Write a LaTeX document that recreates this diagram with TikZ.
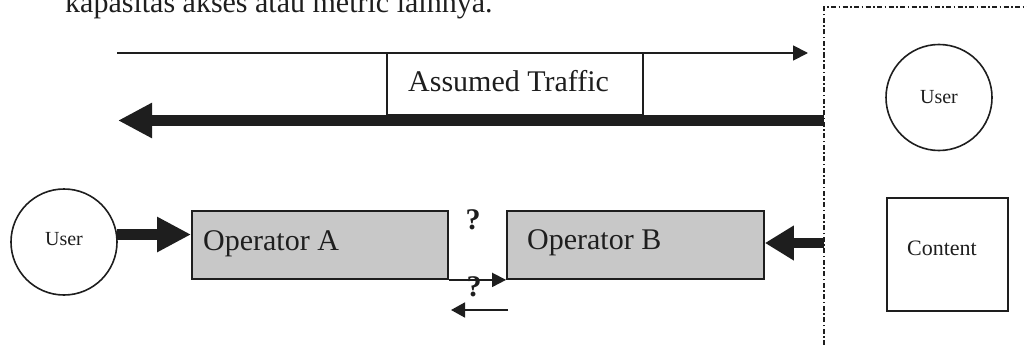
\documentclass[tikz,border=0pt]{standalone}
\usepackage{fontspec}
\setmainfont{Liberation Serif}
\usetikzlibrary{arrows.meta}
\definecolor{ink}{HTML}{1E1E1E}
\definecolor{boxgray}{HTML}{C8C8C8}
\begin{document}
\begin{tikzpicture}[x=1pt,y=-1pt,
  bigtext/.style={font=\fontsize{30}{36}\selectfont, text=ink, inner sep=0pt},
  opbox/.style={draw=ink, line width=1.8pt, fill=boxgray, rectangle,
    minimum width=256pt, minimum height=68pt, inner sep=0pt},
  usercircle/.style={draw=ink, line width=1.6pt, circle, minimum size=106pt,
    inner sep=0pt, font=\fontsize{20}{24}\selectfont, text=ink},
  thinarrow/.style={draw=ink, line width=1.8pt, -{Triangle[length=15pt,width=15pt]}},
  thickarrow/.style={draw=ink, line width=11pt, -{Triangle[length=34pt,width=33pt]}},
  query/.style={font=\fontsize{30}{36}\bfseries\selectfont, text=ink, inner sep=0pt},
  boundary/.style={draw=ink, line width=1.3pt, dash pattern=on 5pt off 2.5pt on 1.5pt off 2.5pt}
]
\useasboundingbox (0,0) rectangle (1027,345);
\clip (0,0) rectangle (1027,345);

% running text above the figure
\node[bigtext, anchor=base west] (caption) at (65,13) {kapasitas akses atau metric lainnya.};

% boundary of the remote network
\coordinate (bndbottom) at (824,345);
\coordinate (bndcorner) at (824,7);
\coordinate (bndright) at (1027,7);
\draw[boundary] (bndbottom) -- (bndcorner) -- (bndright);

% assumed traffic band
\coordinate (fwdstart) at (117,53);
\coordinate (fwdend) at (808,53);
\coordinate (backstart) at (824,120.5);
\coordinate (backend) at (118,120.5);
\node[draw=ink, line width=1.5pt, rectangle, minimum width=256pt, minimum height=62pt,
  inner sep=0pt] (traffic) at (515,84) {};
\node[bigtext, anchor=base west] (trafficlabel) at (408,92) {Assumed Traffic};
\draw[thinarrow] (fwdstart) -- (fwdend);
\draw[thickarrow] (backstart) -- (backend);

% remote user and content
\node[usercircle] (userR) at (939,97.5) {User};
\node[draw=ink, line width=1.6pt, rectangle, minimum width=121pt, minimum height=113pt,
  inner sep=0pt, font=\fontsize{22}{26}\selectfont, text=ink] (content) at (947.5,254.5) {};
\node[font=\fontsize{22}{26}\selectfont, text=ink, inner sep=0pt] (contentlabel) at (942,248) {Content};

% local user and operators
\node[usercircle] (userL) at (64,242) {};
\node[font=\fontsize{20}{24}\selectfont, text=ink, inner sep=0pt] (userLlabel) at (64,239) {User};
\node[opbox] (opA) at (320,245) {};
\node[bigtext, anchor=base west] (opAlabel) at (203,250) {Operator A};
\node[opbox, minimum width=257pt] (opB) at (635.5,245) {};
\node[bigtext, anchor=base west] (opBlabel) at (527,249) {Operator B};

% access traffic into the operators
\draw[thickarrow] (userL.8) -- (opA.west |- userL.8);
\coordinate (contentfeed) at (824,243);
\draw[line width=10pt, draw=ink, -{Triangle[length=29pt,width=33pt]}] (contentfeed) -- (opB.east |- contentfeed);

% interconnection between the operators
\node[query] (q1) at (473,220) {?};
\draw[thinarrow, -{Triangle[length=14pt,width=14pt]}] (opA.south east) -- (opB.south west);
\node[query] (q2) at (474,287) {?};
\coordinate (retstart) at (508,310);
\coordinate (retend) at (451,310);
\draw[thinarrow, -{Triangle[length=14pt,width=15pt]}] (retstart) -- (retend);
\end{tikzpicture}
\end{document}
